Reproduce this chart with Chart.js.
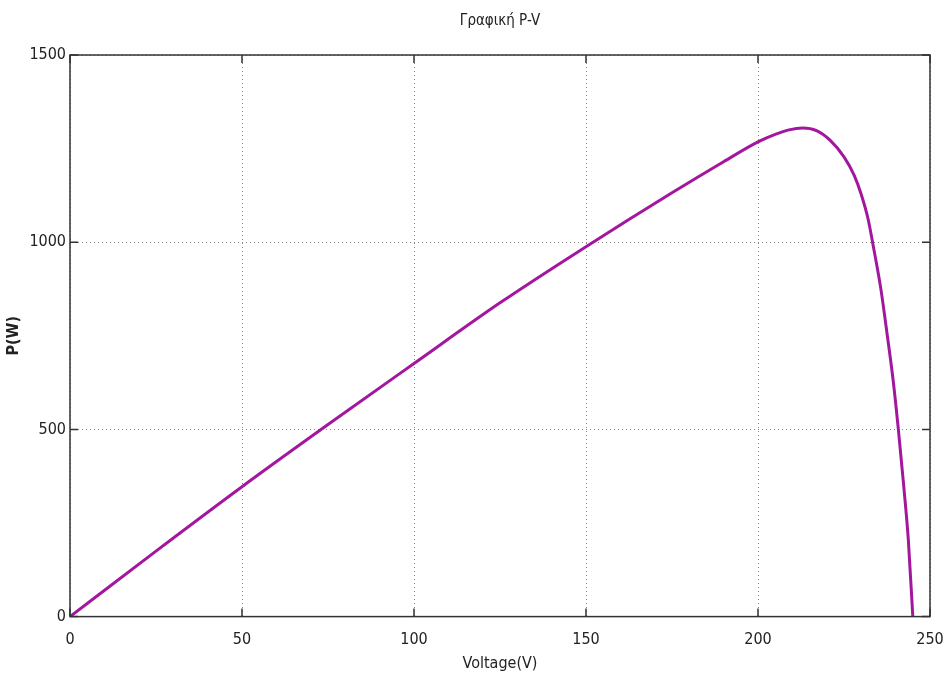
<!DOCTYPE html>
<html>
<head>
<meta charset="utf-8">
<script src="https://cdn.jsdelivr.net/npm/chart.js@4.4.1/dist/chart.umd.min.js"></script>
<style>
    html, body { margin: 0; padding: 0; background: #fff; }
    #wrap { width: 947px; height: 688px; position: relative; }
</style>
</head>
<body>
<div id="wrap"><canvas id="pvChart"></canvas></div>
<script>
// values
const voltage = [0, 25, 50, 75, 100, 125, 150, 175, 190, 200, 205, 209, 213, 217, 221, 225, 228, 230, 232, 233.3, 235.7, 237.6, 239.3, 240.8, 242.3, 243.7, 245];
const power = [0, 175, 347, 513, 676, 838, 988, 1132, 1215, 1268, 1288, 1300, 1305, 1298, 1272, 1228, 1178, 1128, 1062, 1000, 876, 750, 630, 500, 355, 205, 0];
const xTicks = [0, 50, 100, 150, 200, 250];
const yTicks = [0, 500, 1000, 1500];

const FONT = "'Liberation Sans Narrow', 'Arial Narrow', 'DejaVu Sans Condensed', sans-serif";

// MATLAB-like box with inward tick marks
const framePlugin = {
    id: 'frame',
    afterDraw(chart) {
        const ctx = chart.ctx;
        const a = chart.chartArea;
        const xs = chart.scales.x, ys = chart.scales.y;
        ctx.save();
        ctx.strokeStyle = '#333';
        ctx.lineWidth = 1.5;
        ctx.strokeRect(a.left, a.top, a.right - a.left, a.bottom - a.top);
        ctx.beginPath();
        xTicks.forEach(v => {
            const px = xs.getPixelForValue(v);
            ctx.moveTo(px, a.bottom); ctx.lineTo(px, a.bottom - 8);
            ctx.moveTo(px, a.top); ctx.lineTo(px, a.top + 8);
        });
        yTicks.forEach(v => {
            const py = ys.getPixelForValue(v);
            ctx.moveTo(a.left, py); ctx.lineTo(a.left + 8, py);
            ctx.moveTo(a.right, py); ctx.lineTo(a.right - 8, py);
        });
        ctx.stroke();
        ctx.restore();
    }
};

const points = voltage.map((v, i) => ({ x: v, y: power[i] }));

new Chart(document.getElementById('pvChart'), {
    type: 'line',
    data: {
        datasets: [{
            label: 'P-V',
            data: points,
            borderColor: '#a3179f',
            borderWidth: 3,
            pointRadius: 0,
            fill: false,
            cubicInterpolationMode: 'monotone'
        }]
    },
    options: {
        responsive: true,
        maintainAspectRatio: false,
        animation: false,
        layout: { padding: { left: 4, right: 17, top: 0, bottom: 15 } },
        plugins: {
            legend: { display: false },
            tooltip: { enabled: false },
            title: {
                display: true,
                fullSize: false,
                text: 'Γραφική P-V',
                color: '#222',
                font: { family: FONT, size: 15, weight: 'normal' },
                padding: { top: 12, bottom: 25 }
            }
        },
        scales: {
            x: {
                type: 'linear',
                min: 0,
                max: 250,
                afterBuildTicks: s => { s.ticks = xTicks.map(v => ({ value: v })); },
                afterFit: s => { s.paddingLeft = 0; s.paddingRight = 0; },
                ticks: { color: '#222', font: { family: FONT, size: 16 }, padding: 14, maxRotation: 0 },
                grid: { color: '#888', lineWidth: 1, drawTicks: false },
                border: { display: false, dash: [1, 3] },
                title: { display: true, text: 'Voltage(V)', color: '#222', font: { family: FONT, size: 16 }, padding: { top: -10, bottom: 0 } }
            },
            y: {
                min: 0,
                max: 1500,
                afterBuildTicks: s => { s.ticks = yTicks.map(v => ({ value: v })); },
                afterFit: s => { s.width = 66; },
                ticks: { color: '#222', font: { family: FONT, size: 16 }, padding: 4, callback: v => String(v) },
                grid: { color: '#888', lineWidth: 1, drawTicks: false },
                border: { display: false, dash: [1, 3] },
                title: { display: true, text: 'P(W)', color: '#222', font: { family: FONT, size: 16, weight: 'bold' }, padding: 0 }
            }
        }
    },
    plugins: [framePlugin]
});
</script>
</body>
</html>
